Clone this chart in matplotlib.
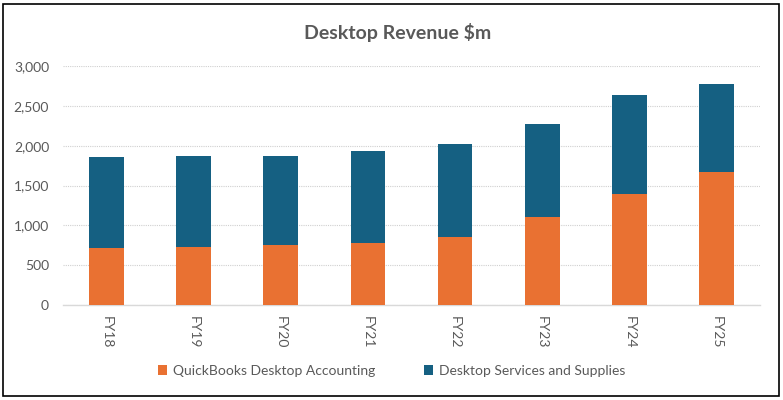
import numpy as np
import matplotlib.pyplot as plt
from matplotlib.patches import Rectangle
from matplotlib.ticker import FuncFormatter

# values ($m)
years = ["FY18", "FY19", "FY20", "FY21", "FY22", "FY23", "FY24", "FY25"]
accounting = [715, 728, 753, 782, 849, 1104, 1389, 1669]
services = [1138, 1138, 1113, 1151, 1167, 1167, 1246, 1100]

orange = "#E97132"
blue = "#156082"
grey = "#595959"

plt.rcParams["font.family"] = ["Lato", "DejaVu Sans"]

fig = plt.figure(figsize=(7.83, 4.0), dpi=100)
ax = fig.add_axes([63 / 783, 1 - 305 / 400, 697 / 783, 239 / 400])

x = np.arange(len(years))
ax.bar(x, accounting, width=0.4, color=orange, label="QuickBooks Desktop Accounting", zorder=3)
ax.bar(x, services, width=0.4, bottom=accounting, color=blue,
       label="Desktop Services and Supplies", zorder=3)

ax.set_xlim(-0.5, len(years) - 0.5)
ax.set_ylim(0, 3000)
ax.set_yticks(np.arange(0, 3001, 500))
ax.yaxis.set_major_formatter(FuncFormatter(lambda v, p: f"{int(v):,}"))
ax.set_xticks(x)
ax.set_xticklabels(years, rotation=-90)
ax.tick_params(axis="both", length=0, labelsize=10, colors=grey, pad=8)
ax.tick_params(axis="y", pad=10)

ax.grid(axis="y", color="#D0D0D0", linestyle=(0, (1, 1)), linewidth=0.8, zorder=0)
for s in ["top", "right", "left"]:
    ax.spines[s].set_visible(False)
ax.spines["bottom"].set_color("#D9D9D9")
ax.spines["bottom"].set_linewidth(1.0)

fig.text(398 / 783, 1 - 33 / 400, "Desktop Revenue $m", ha="center", va="center",
         fontsize=14, fontweight="bold", color=grey)

fig.legend(loc="center", bbox_to_anchor=(0.5, 1 - 371 / 400), ncol=2, frameon=False,
           fontsize=10, labelcolor=grey, handlelength=0.7, handleheight=0.7,
           handletextpad=0.4, columnspacing=3.5)

# outer chart border
fig.patches.append(Rectangle((3 / 783, 4 / 400), 776 / 783, 392 / 400, transform=fig.transFigure,
                             fill=False, edgecolor="black", linewidth=1.2))

fig.savefig("out.png", dpi=100)
